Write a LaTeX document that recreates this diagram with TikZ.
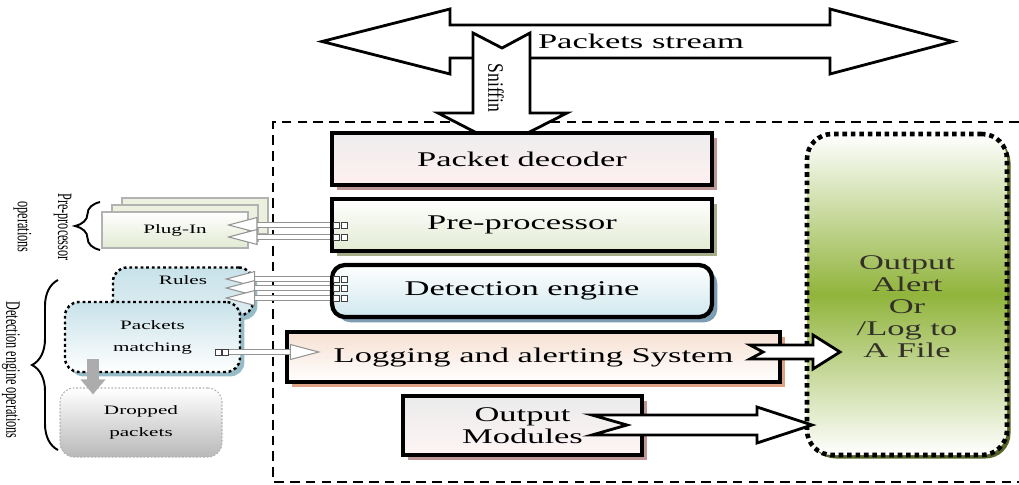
\documentclass[tikz,border=0pt]{standalone}
\usepackage{fontspec}
\setmainfont{Liberation Serif}[FakeStretch=1.65]
\newfontfamily\narrowfont{Liberation Serif}[FakeStretch=0.6]
\newfontfamily\sniffont{Liberation Serif}[FakeStretch=0.8]
\usepackage{tikz}
\usetikzlibrary{arrows.meta, positioning, shadows, decorations.pathreplacing}

\definecolor{decshadow}{RGB}{190,150,150}
\definecolor{preshadow}{RGB}{165,172,135}
\definecolor{detshadow}{RGB}{125,158,178}
\definecolor{logshadow}{RGB}{222,162,132}
\definecolor{detfill}{RGB}{208,232,238}
\definecolor{logfill}{RGB}{246,224,210}
\definecolor{plugfill}{RGB}{226,234,210}
\definecolor{rulefill}{RGB}{200,226,234}
\definecolor{ruleshadow}{RGB}{150,188,200}
\definecolor{alertgreen}{RGB}{145,180,60}
\definecolor{alertshadow}{RGB}{85,100,38}

\newcommand{\mainsz}{\fontsize{11.9}{12.5}\selectfont}
\newcommand{\smallsz}{\fontsize{7.3}{12.5}\selectfont}
\newcommand{\sidesz}{\narrowfont\fontsize{11.6}{23}\selectfont}

\begin{document}
\begin{tikzpicture}[
  mainbox/.style={draw, line width=2.4pt, minimum width=7.6cm, minimum height=1.04cm,
    font=\mainsz, inner sep=2pt},
  boxshadow/.style={drop shadow={shadow xshift=3pt, shadow yshift=-3pt, fill=#1, opacity=1}},
  sidebox/.style={rounded corners=8pt, font=\smallsz, align=center, inner sep=2pt},
  dotline/.style={draw, line width=1.4pt, dash pattern=on 1.6pt off 1.6pt},
  hollowar/.style={draw=gray!85, double=white, double distance=1.8pt, line width=0.6pt,
    -{Triangle[length=0.62cm, width=0.32cm, fill=white, line width=0.6pt]}},
  blockar/.style={draw, line width=1.6pt, fill=white, line join=miter},
  dropar/.style={draw=gray!65, line width=0.24cm, -{Triangle[length=0.3cm, width=0.48cm]}},
  bracepath/.style={decorate, decoration={brace, amplitude=#1}, line width=1.1pt},
  ports/.pic={\draw[black!75, line width=0.5pt, fill=white]
    (0,-0.06) rectangle (0.12,0.06) (0.15,-0.06) rectangle (0.27,0.06);},
]
\useasboundingbox (0,0) rectangle (20.38,-9.70);

% ── Outer frame ──────────────────────────────────────────────────────────────
\draw[line width=0.7pt, dash pattern=on 5.5pt off 3.5pt]
  (20.38,-2.44) -- (5.46,-2.44) -- (5.46,-9.64) -- (20.38,-9.64);

% ── Packets stream and sniffing ──────────────────────────────────────────────
\draw[blockar] (6.44,-0.83) -- (9.0,-0.18) -- (9.0,-0.50) -- (16.6,-0.50) -- (16.6,-0.18)
  -- (19.06,-0.83) -- (16.6,-1.48) -- (16.6,-1.16) -- (9.0,-1.16) -- (9.0,-1.48) -- cycle;
\draw[blockar] (9.46,-0.66) -- (10.04,-0.96) -- (10.6,-0.66) -- (10.6,-2.26) -- (11.34,-2.26)
  -- (10.04,-2.92) -- (8.76,-2.26) -- (9.46,-2.26) -- cycle;
\node[font=\mainsz] (stream) at (12.82,-0.83) {Packets stream};
\node[font=\sniffont\fontsize{12.5}{14}\selectfont, rotate=-90] (sniff) at (9.92,-1.76) {Sniffin};

% ── Main pipeline ────────────────────────────────────────────────────────────
\node[mainbox, boxshadow=decshadow, top color=gray!14, bottom color=red!6] (dec) at (10.44,-3.18) {Packet decoder};
\node[mainbox, boxshadow=preshadow, top color=white, bottom color=plugfill] (pre) at (10.44,-4.50) {Pre-processor};
\node[mainbox, boxshadow=detshadow, top color=white, bottom color=detfill, rounded corners=0.26cm] (det) at (10.44,-5.82) {Detection engine};
\node[mainbox, boxshadow=logshadow, top color=logfill, bottom color=white, minimum width=9.86cm, minimum height=1.0cm] (log) at (10.67,-7.14) {Logging and alerting System};
\node[mainbox, boxshadow=decshadow, top color=gray!16, bottom color=red!4, minimum width=4.78cm, minimum height=1.18cm, align=center] (outmod) at (10.45,-8.51) {Output\\Modules};

% ── Output ───────────────────────────────────────────────────────────────────
\node[draw, line width=2.6pt, dash pattern=on 2.6pt off 2.2pt, rounded corners=0.5cm,
  minimum width=4cm, minimum height=6.42cm, top color=white, bottom color=white,
  middle color=alertgreen,
  drop shadow={shadow xshift=2pt, shadow yshift=-2pt, fill=alertshadow, opacity=1}]
  (alert) at (18.14,-5.89) {};
\node[font=\mainsz, align=center, text=black!85!olive] (alerttxt) at ([yshift=-0.24cm]alert.center)
  {Output\\Alert\\Or\\/Log to\\A File};
\draw[blockar] (15.0,-6.9) -- (16.26,-6.9) -- (16.26,-6.7) -- (16.8,-7.04) -- (16.26,-7.38)
  -- (16.26,-7.18) -- (15.0,-7.18) -- (15.26,-7.04) -- cycle;
\draw[blockar] (11.84,-8.3) -- (15.14,-8.3) -- (15.14,-8.14) -- (16.24,-8.5) -- (15.14,-8.86)
  -- (15.14,-8.7) -- (11.84,-8.7) -- (12.54,-8.5) -- cycle;

% ── Pre-processor operations ─────────────────────────────────────────────────
\node[draw=gray!60, line width=0.6pt, top color=white, bottom color=plugfill,
  minimum width=2.92cm, minimum height=0.72cm, font=\smallsz,
  double copy shadow={shadow xshift=0.2cm, shadow yshift=0.14cm, draw=gray!60, fill=plugfill!70}]
  (plug) at (3.5,-4.6) {Plug-In};

% ── Detection engine operations ──────────────────────────────────────────────
\node[sidebox, dotline, top color=rulefill, bottom color=rulefill!60,
  drop shadow={shadow xshift=2.5pt, shadow yshift=-2.5pt, fill=ruleshadow, opacity=1},
  minimum width=2.8cm, minimum height=0.96cm] (rules) at (3.66,-5.83) {};
\node[font=\smallsz, inner sep=0pt, below=0.18cm of rules.north] (rulestxt) {Rules};
\node[sidebox, dotline, top color=rulefill, bottom color=white,
  drop shadow={shadow xshift=2.5pt, shadow yshift=-2.5pt, fill=ruleshadow, opacity=1},
  minimum width=3.5cm, minimum height=1.4cm] (match) at (3.05,-6.74) {Packets\\matching};
\node[sidebox, draw=gray!60, line width=0.6pt, dash pattern=on 1pt off 1pt,
  top color=white, bottom color=gray!55, minimum width=3.24cm, minimum height=1.38cm]
  (drop) at (2.82,-8.45) {Dropped\\packets};

% ── Connectors ───────────────────────────────────────────────────────────────
\draw[hollowar, shorten >=-0.44cm] (pre.west) -- (pre.west -| plug.east);
\draw[hollowar, shorten >=-0.44cm] ([yshift=-0.24cm]pre.west) -- ([yshift=-0.24cm]pre.west -| plug.east);
\draw[hollowar, shorten >=-0.6cm] ([yshift=0.24cm]det.west) -- ([yshift=0.24cm]det.west -| rules.east);
\draw[hollowar, shorten >=-0.6cm] ([yshift=0.06cm]det.west) -- ([yshift=0.06cm]det.west -| rules.east);
\draw[hollowar, shorten >=-0.6cm] ([yshift=-0.14cm]det.west) -- ([yshift=-0.14cm]det.west -| rules.east);
\draw[hollowar, shorten <=-0.24cm, shorten >=-0.72cm] ([yshift=0.1cm]log.west -| match.east) -- ([yshift=0.1cm]log.west);
\pic at ([xshift=0.08cm]pre.west) {ports};
\pic at ([xshift=0.08cm, yshift=-0.24cm]pre.west) {ports};
\pic at ([xshift=0.08cm, yshift=0.24cm]det.west) {ports};
\pic at ([xshift=0.08cm, yshift=0.06cm]det.west) {ports};
\pic at ([xshift=0.08cm, yshift=-0.14cm]det.west) {ports};
\pic at ([xshift=-0.52cm, yshift=0.1cm]log.west -| match.east) {ports};

\coordinate (dropx) at (1.86,0);
\draw[dropar, shorten <=-0.28cm, shorten >=-0.14cm] (match.south -| dropx) -- (drop.north -| dropx);

% ── Braces and side labels ───────────────────────────────────────────────────
\draw[bracepath=0.5cm] (2.0,-5.0) -- (2.0,-4.04);
\draw[bracepath=0.52cm] (1.16,-9.0) -- (1.16,-5.6);
\node[font=\sidesz, rotate=-90, align=center] (preops) at (0.85,-4.54) {Pre-processor\\operations};
\node[font=\sidesz, rotate=-90] (detops) at (0.22,-7.4) {Detection engine operations};

\end{tikzpicture}
\end{document}
